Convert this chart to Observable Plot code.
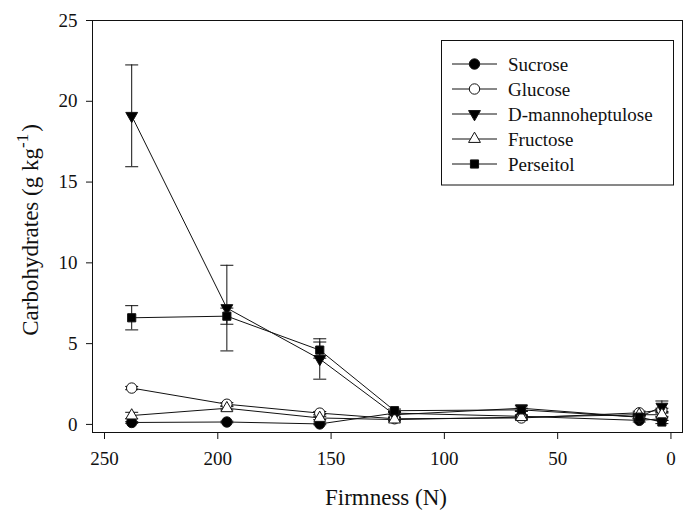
<!DOCTYPE html>
<html><head><meta charset="utf-8">
<script src="https://cdn.jsdelivr.net/npm/d3@7"></script>
<script src="https://cdn.jsdelivr.net/npm/@observablehq/plot@0.6"></script>
<style>body{margin:0;background:#fff;}</style>
</head><body><div id="chart"></div>
<script>
// ---- data ----
const firmness = [238, 196, 155, 122, 66, 14, 4];
const seriesNames = ["Sucrose", "Glucose", "D-mannoheptulose", "Fructose", "Perseitol"];
const sucrose   = [0.12, 0.15, 0.03, 0.7, 0.5, 0.25, 0.35];
const glucose   = [2.25, 1.25, 0.7, 0.35, 0.4, 0.72, 0.9];
const dmanno    = [19.1, 7.2, 4.05, 0.6, 1.0, 0.45, 1.1];
const fructose  = [0.55, 1.0, 0.4, 0.3, 0.45, 0.6, 0.6];
const perseitol = [6.6, 6.7, 4.6, 0.85, 0.9, 0.45, 0.15];
const sucroseErr   = [0.05, 0.05, 0.05, 0.1, 0.1, 0.1, 0.1];
const glucoseErr   = [0.1, 0.1, 0.1, 0.1, 0.1, 0.1, 0.1];
const dmannoErr    = [3.15, 2.65, 1.25, 0.15, 0.15, 0.1, 0.35];
const fructoseErr  = [0.2, 0.1, 0.1, 0.1, 0.1, 0.1, 0.1];
const perseitolErr = [0.75, 0.5, 0.5, 0.1, 0.1, 0.1, 0.1];
const xTicks = [250, 200, 150, 100, 50, 0];
const yTicks = [0, 5, 10, 15, 20, 25];
const xLabel = "Firmness (N)";
const yLabelMain = "Carbohydrates (g kg";
const yLabelSup = "-1";
const yLabelEnd = ")";

const seriesValues = [sucrose, glucose, dmanno, fructose, perseitol];
const seriesErrors = [sucroseErr, glucoseErr, dmannoErr, fructoseErr, perseitolErr];

// styles per series
const styleOf = {
  "Sucrose":          {symbol: "circle",   fill: "#000", rotate: 0,   r: 5.2},
  "Glucose":          {symbol: "circle",   fill: "#fff", rotate: 0,   r: 5.2},
  "D-mannoheptulose": {symbol: "triangle", fill: "#000", rotate: 180, r: 4.4},
  "Fructose":         {symbol: "triangle", fill: "#fff", rotate: 0,   r: 4.4},
  "Perseitol":        {symbol: "square",   fill: "#000", rotate: 0,   r: 4.6}
};

const rows = [];
seriesNames.forEach((name, i) => {
  firmness.forEach((f, j) => {
    rows.push({series: name, x: f, y: seriesValues[i][j], e: seriesErrors[i][j]});
  });
});

const capSymbol = {draw(ctx) { ctx.moveTo(-6.5, 0); ctx.lineTo(6.5, 0); }};
const ink = "#111";

const marks = [
  Plot.frame({stroke: ink, strokeWidth: 1}),
  Plot.axisX({ticks: xTicks, tickSize: 7, tickPadding: 12, label: null, stroke: ink}),
  Plot.axisY({ticks: yTicks, tickSize: 6, tickPadding: 9, label: null, stroke: ink}),
  Plot.ruleX(rows, {x: "x", y1: d => d.y - d.e, y2: d => d.y + d.e, stroke: ink, strokeWidth: 1}),
  Plot.dot(rows, {x: "x", y: d => d.y + d.e, symbol: capSymbol, fill: "none", stroke: ink, strokeWidth: 1}),
  Plot.dot(rows, {x: "x", y: d => d.y - d.e, symbol: capSymbol, fill: "none", stroke: ink, strokeWidth: 1}),
  Plot.line(rows, {x: "x", y: "y", z: "series", sort: {x: "x"}, stroke: ink, strokeWidth: 1})
];
seriesNames.forEach(name => {
  const s = styleOf[name];
  marks.push(Plot.dot(rows.filter(d => d.series === name), {
    x: "x", y: "y", symbol: s.symbol, r: s.r, fill: s.fill, stroke: ink, strokeWidth: 1, rotate: s.rotate
  }));
});

const svg = Plot.plot({
  width: 691, height: 511,
  marginLeft: 92, marginRight: 9, marginTop: 20, marginBottom: 79,
  style: {fontFamily: "'Liberation Serif', 'Times New Roman', serif", fontSize: "19px", color: ink, background: "#fff"},
  x: {domain: [255.3, -5.1]},
  y: {domain: [-0.5, 25]},
  marks
});
document.getElementById("chart").appendChild(svg);

const sel = d3.select(svg);
// axis titles
sel.append("text")
  .attr("x", 386).attr("y", 505)
  .attr("text-anchor", "middle")
  .attr("font-size", 23).attr("fill", ink)
  .text(xLabel);
const yt = sel.append("text")
  .attr("transform", "translate(38,230) rotate(-90)")
  .attr("text-anchor", "middle")
  .attr("font-size", 23).attr("fill", ink);
yt.append("tspan").text(yLabelMain);
yt.append("tspan").attr("font-size", 17).attr("dy", -10).text(yLabelSup);
yt.append("tspan").attr("dy", 10).attr("dx", 2).text(yLabelEnd);

// legend
const lg = sel.append("g").attr("text-anchor", "start");
lg.append("rect").attr("x", 441.5).attr("y", 40.5).attr("width", 232).attr("height", 144.5)
  .attr("fill", "#fff").attr("stroke", ink).attr("stroke-width", 1);
const symMap = {circle: d3.symbolCircle, triangle: d3.symbolTriangle, square: d3.symbolSquare};
seriesNames.forEach((name, i) => {
  const s = styleOf[name];
  const y = 64 + i * 25;
  lg.append("line").attr("x1", 452).attr("x2", 497).attr("y1", y).attr("y2", y)
    .attr("stroke", ink).attr("stroke-width", 1);
  lg.append("path")
    .attr("d", d3.symbol(symMap[s.symbol], Math.PI * s.r * s.r)())
    .attr("transform", `translate(474.5,${y}) rotate(${s.rotate})`)
    .attr("fill", s.fill).attr("stroke", ink).attr("stroke-width", 1);
  lg.append("text").attr("x", 508).attr("y", y).attr("dy", "0.35em")
    .attr("text-anchor", "start")
    .attr("font-size", 19).attr("fill", ink).text(name);
});
</script>
</body></html>
